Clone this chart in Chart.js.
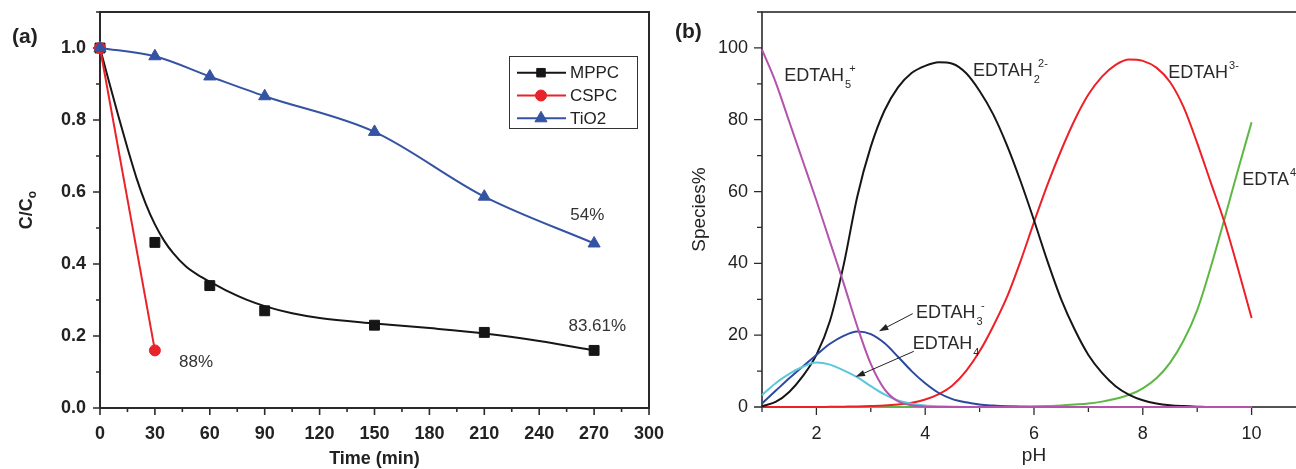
<!DOCTYPE html>
<html>
<head>
<meta charset="utf-8">
<script src="https://cdn.jsdelivr.net/npm/chart.js@4.4.0/dist/chart.umd.min.js"></script>
<style>
  html, body { margin: 0; padding: 0; background: #fff; overflow: hidden; }
  #wrap { position: relative; width: 1296px; height: 469px; overflow: hidden; background: #fff; }
  canvas { position: absolute; top: 0; }
  #chartA { left: 0; }
  #chartB { left: 660px; }
</style>
</head>
<body>
<div id="wrap">
  <canvas id="chartA" width="665" height="469"></canvas>
  <canvas id="chartB" width="660" height="469"></canvas>
</div>
<script>
const FONT = '"Liberation Sans", Arial, Helvetica, sans-serif';
Chart.defaults.font.family = FONT;
Chart.defaults.color = '#222';

// ---- panel (a): C/Co against time ----
const timeMin = [0, 30, 60, 90, 150, 210, 270];
const mppc = [1.0, 0.46, 0.34, 0.27, 0.23, 0.21, 0.16];
const tio2 = [1.0, 0.977, 0.921, 0.866, 0.767, 0.587, 0.457];
const cspcTime = [0, 30];
const cspc = [1.0, 0.16];
// MPPC fitted curve
const mppcFitTime = [0, 5, 10, 15, 20, 25, 30, 35, 40, 47, 55, 60, 70, 80, 90, 105, 120, 150, 180, 210, 240, 270];
const mppcFit = [1.0, 0.905, 0.812, 0.722, 0.638, 0.567, 0.51, 0.465, 0.43, 0.393, 0.365, 0.351, 0.324, 0.301, 0.283, 0.263, 0.25, 0.235, 0.222, 0.207, 0.186, 0.16];
const timeTicks = [0, 30, 60, 90, 120, 150, 180, 210, 240, 270, 300];
const ratioTicks = ['0.0', '0.2', '0.4', '0.6', '0.8', '1.0'];

// ---- panel (b): EDTA species against pH ----
const pH = [1, 1.25, 1.5, 1.75, 2, 2.25, 2.5, 2.75, 3, 3.25, 3.5, 3.75, 4, 4.25, 4.5, 4.75, 5, 5.25, 5.5,
  5.75, 6, 6.25, 6.5, 6.75, 7, 7.25, 7.5, 7.75, 8, 8.25, 8.5, 8.75, 9, 9.25, 9.5, 9.75, 10];
const edtah5 = [99.5, 90.5, 79.5, 68.5, 57.5, 46, 34.5, 22.5, 12, 5, 1.6, 0.5, 0.1, 0, 0, 0, 0, 0, 0,
  0, 0, 0, 0, 0, 0, 0, 0, 0, 0, 0, 0, 0, 0, 0, 0, 0, 0];
const edtah4 = [3.3, 6.6, 9.2, 11.2, 12.4, 11.8, 10.2, 8.3, 5.8, 3.5, 1.8, 0.9, 0.4, 0.2, 0.1, 0, 0, 0, 0,
  0, 0, 0, 0, 0, 0, 0, 0, 0, 0, 0, 0, 0, 0, 0, 0, 0, 0];
const edtah3 = [1.0, 4.5, 8.0, 11.3, 14.5, 17.6, 19.8, 21.0, 20.3, 17.8, 14.0, 10.0, 6.6, 3.9, 2.2, 1.3, 0.7, 0.4, 0.2,
  0.1, 0, 0, 0, 0, 0, 0, 0, 0, 0, 0, 0, 0, 0, 0, 0, 0, 0];
const edtah2 = [0.2, 1.4, 4.2, 8.6, 14.5, 24, 39.5, 58.5, 72.5, 82.5, 89, 93, 95, 96, 95.6, 93, 88, 81.5, 73,
  63, 52, 40.5, 30, 21.5, 14.5, 9.5, 5.8, 3.4, 1.9, 1.0, 0.5, 0.25, 0.1, 0, 0, 0, 0];
const edtah = [0, 0, 0, 0, 0, 0.05, 0.1, 0.15, 0.25, 0.4, 0.7, 1.2, 2.1, 3.6, 6.0, 10.0, 15.5, 22.5, 30.5,
  40.5, 51.5, 62, 71.5, 80, 87, 92, 95.3, 96.8, 96.4, 94.5, 90.5, 83.5, 73.5, 62.5, 51.5, 38.5, 24.8];
const edta4 = [0, 0, 0, 0, 0, 0, 0, 0, 0, 0, 0, 0, 0, 0, 0, 0, 0.05, 0.08, 0.1,
  0.15, 0.2, 0.3, 0.45, 0.7, 1.0, 1.5, 2.3, 3.4, 5.2, 8.0, 12.3, 18.5, 27, 39, 52.3, 66, 79.3];
const phTicks = [2, 4, 6, 8, 10];
const speciesTicks = [0, 20, 40, 60, 80, 100];

const toPoints = (xs, ys) => xs.map((x, i) => ({ x, y: ys[i] }));

// fixed axis boxes; drop the extra room Chart.js keeps for end labels
function fixX(h) {
  return s => { s.height = h; s.paddingLeft = 0; s.paddingRight = 0; };
}
function fixY(w) {
  return s => { s.width = w; s.paddingTop = 0; s.paddingBottom = 0; };
}

// frame around the plot area plus outward major/minor tick marks
const decor = {
  id: 'decor',
  beforeDatasetsDraw(chart, args, opts) {
    const { left, top, right, bottom } = chart.chartArea;
    const ctx = chart.ctx;
    ctx.save();
    ctx.strokeStyle = opts.color;
    ctx.lineWidth = opts.width;
    ctx.strokeRect(left, top, right - left, bottom - top);
    ctx.lineWidth = opts.width * 0.8;
    ctx.beginPath();
    chart.scales.x.ticks.forEach(t => {
      const px = chart.scales.x.getPixelForValue(t.value);
      const len = t.label !== '' ? opts.major : opts.minor;
      ctx.moveTo(px, bottom);
      ctx.lineTo(px, bottom + len);
    });
    chart.scales.y.ticks.forEach(t => {
      const py = chart.scales.y.getPixelForValue(t.value);
      const len = t.label !== '' ? opts.major : opts.minor;
      ctx.moveTo(left, py);
      ctx.lineTo(left - len, py);
    });
    ctx.stroke();
    ctx.restore();
  }
};

function drawSpecies(ctx, x, y, item) {
  ctx.font = '18px ' + FONT;
  ctx.fillText(item.text, x, y);
  let end = x + ctx.measureText(item.text).width + 1;
  ctx.font = '11px ' + FONT;
  let subW = 0;
  if (item.sub) {
    ctx.fillText(item.sub, end, y + 7);
    subW = ctx.measureText(item.sub).width;
  }
  if (item.sup) {
    ctx.fillText(item.sup, end + (item.sub ? subW * 0.7 : 0), y - 9);
  }
}

function arrow(ctx, x1, y1, x2, y2) {
  const a = Math.atan2(y2 - y1, x2 - x1);
  ctx.beginPath();
  ctx.moveTo(x1, y1);
  ctx.lineTo(x2 - 6 * Math.cos(a), y2 - 6 * Math.sin(a));
  ctx.stroke();
  ctx.beginPath();
  ctx.moveTo(x2, y2);
  ctx.lineTo(x2 - 10 * Math.cos(a - 0.32), y2 - 10 * Math.sin(a - 0.32));
  ctx.lineTo(x2 - 10 * Math.cos(a + 0.32), y2 - 10 * Math.sin(a + 0.32));
  ctx.closePath();
  ctx.fill();
}

const BLACK = '#161616';
const RED = '#e8232a';
const BLUE = '#3553a3';

const textA = {
  id: 'textA',
  afterDraw(chart) {
    const ctx = chart.ctx;
    const { left, right, top, bottom } = chart.chartArea;
    const xs = chart.scales.x, ys = chart.scales.y;
    ctx.save();
    ctx.fillStyle = '#333';
    ctx.textBaseline = 'alphabetic';
    ctx.textAlign = 'left';
    ctx.font = '17px ' + FONT;
    [['88%', 43.2, 0.113], ['83.61%', 256, 0.215], ['54%', 257, 0.521]].forEach(([s, t, v]) => {
      ctx.fillText(s, xs.getPixelForValue(t), ys.getPixelForValue(v));
    });

    // legend
    const lx = left + 409, ly = top + 44;
    ctx.strokeStyle = '#333';
    ctx.lineWidth = 1;
    ctx.strokeRect(lx + 0.5, ly + 0.5, 128, 72);
    const rows = [
      { label: 'MPPC', color: BLACK, style: 'rect', r: 6 },
      { label: 'CSPC', color: RED, style: 'circle', r: 5.5 },
      { label: 'TiO2', color: BLUE, style: 'triangle', r: 7 }
    ];
    rows.forEach((row, i) => {
      const y = ly + 16.7 + i * 22.8;
      ctx.strokeStyle = row.color;
      ctx.fillStyle = row.color;
      ctx.lineWidth = 2;
      ctx.beginPath();
      ctx.moveTo(lx + 8, y);
      ctx.lineTo(lx + 57, y);
      ctx.stroke();
      ctx.lineWidth = 1;
      Chart.helpers.drawPoint(ctx, { pointStyle: row.style, radius: row.r, rotation: 0, borderWidth: 1 }, lx + 32, y);
      ctx.fillStyle = '#222';
      ctx.font = '17px ' + FONT;
      ctx.textBaseline = 'middle';
      ctx.fillText(row.label, lx + 61, y + 1);
    });

    // axis titles
    ctx.fillStyle = '#222';
    ctx.textBaseline = 'alphabetic';
    ctx.textAlign = 'center';
    ctx.font = 'bold 18px ' + FONT;
    ctx.fillText('Time (min)', (left + right) / 2, bottom + 56);

    ctx.save();
    ctx.translate(32, (top + bottom) / 2);
    ctx.rotate(-Math.PI / 2);
    ctx.textAlign = 'left';
    ctx.font = 'bold 18px ' + FONT;
    const w1 = ctx.measureText('C/C').width;
    ctx.font = 'bold 12px ' + FONT;
    const w2 = ctx.measureText('o').width;
    ctx.font = 'bold 18px ' + FONT;
    ctx.fillText('C/C', -(w1 + w2) / 2, 0);
    ctx.font = 'bold 12px ' + FONT;
    ctx.fillText('o', -(w1 + w2) / 2 + w1, 4);
    ctx.restore();

    ctx.textAlign = 'left';
    ctx.font = 'bold 21px ' + FONT;
    ctx.fillText('(a)', 12, 43);
    ctx.restore();
  }
};

const textB = {
  id: 'textB',
  afterDraw(chart) {
    const ctx = chart.ctx;
    const { left, right, top, bottom } = chart.chartArea;
    const xs = chart.scales.x, ys = chart.scales.y;
    ctx.save();
    ctx.fillStyle = '#2a2a2a';
    ctx.textAlign = 'left';
    ctx.textBaseline = 'alphabetic';
    const names = [
      { text: 'EDTAH', sub: '5', sup: '+', ph: 1.41, pct: 90.9 },
      { text: 'EDTAH', sub: '2', sup: '2-', ph: 4.88, pct: 92.3 },
      { text: 'EDTAH', sup: '3-', ph: 8.47, pct: 91.6 },
      { text: 'EDTA', sup: '4-', ph: 9.83, pct: 61.9 },
      { text: 'EDTAH', sub: '3', sup: '-', ph: 3.83, pct: 24.8 },
      { text: 'EDTAH', sub: '4', ph: 3.77, pct: 16.2 }
    ];
    names.forEach(n => drawSpecies(ctx, xs.getPixelForValue(n.ph), ys.getPixelForValue(n.pct), n));

    ctx.strokeStyle = '#222';
    ctx.fillStyle = '#222';
    ctx.lineWidth = 1;
    [[3.77, 26.0, 3.15, 21.1], [3.79, 15.5, 2.72, 8.4]].forEach(([p1, v1, p2, v2]) => {
      arrow(ctx, xs.getPixelForValue(p1), ys.getPixelForValue(v1), xs.getPixelForValue(p2), ys.getPixelForValue(v2));
    });

    ctx.fillStyle = '#222';
    ctx.textAlign = 'center';
    ctx.font = '19px ' + FONT;
    ctx.fillText('pH', (left + right) / 2, bottom + 54);

    ctx.save();
    ctx.translate(45, (top + bottom) / 2);
    ctx.rotate(-Math.PI / 2);
    ctx.fillText('Species%', 0, 0);
    ctx.restore();

    ctx.textAlign = 'left';
    ctx.font = 'bold 21px ' + FONT;
    ctx.fillText('(b)', 15, 38);
    ctx.restore();
  }
};

new Chart(document.getElementById('chartA'), {
  type: 'line',
  data: {
    datasets: [
      {
        label: 'TiO2', data: toPoints(timeMin, tio2),
        borderColor: BLUE, backgroundColor: BLUE, borderWidth: 2,
        pointStyle: 'triangle', pointRadius: 7, pointBorderWidth: 1,
        cubicInterpolationMode: 'monotone', clip: false
      },
      {
        label: 'CSPC', data: toPoints(cspcTime, cspc),
        borderColor: RED, backgroundColor: RED, borderWidth: 2,
        pointStyle: 'circle', pointRadius: 5.5, pointBorderWidth: 1, clip: false
      },
      {
        label: 'MPPC', data: toPoints(timeMin, mppc), showLine: false,
        borderColor: BLACK, backgroundColor: BLACK,
        pointStyle: 'rect', pointRadius: 7, pointBorderWidth: 1, clip: false
      },
      {
        label: 'MPPC fit', data: toPoints(mppcFitTime, mppcFit),
        borderColor: BLACK, borderWidth: 2, pointRadius: 0,
        cubicInterpolationMode: 'monotone', clip: false
      }
    ]
  },
  options: {
    responsive: false,
    animation: false,
    devicePixelRatio: 1,
    layout: { padding: { left: 0, right: 16, top: 12, bottom: 0 } },
    plugins: {
      legend: { display: false },
      tooltip: { enabled: false },
      decor: { color: '#2a2a2a', width: 2, major: 7, minor: 4 }
    },
    scales: {
      x: {
        type: 'linear', min: 0, max: 300,
        afterFit: fixX(61),
        grid: { display: false, drawTicks: false },
        border: { display: false },
        ticks: {
          stepSize: 15, autoSkip: false, maxRotation: 0, padding: 15,
          color: '#222', font: { size: 18, weight: 'bold' },
          callback: v => timeTicks.includes(v) ? String(v) : ''
        }
      },
      y: {
        type: 'linear', min: 0, max: 1.1,
        afterFit: fixY(100),
        grid: { display: false, drawTicks: false },
        border: { display: false },
        ticks: {
          stepSize: 0.1, autoSkip: false, padding: 14,
          color: '#222', font: { size: 18, weight: 'bold' },
          callback: v => { const s = v.toFixed(1); return ratioTicks.includes(s) ? s : ''; }
        }
      }
    }
  },
  plugins: [decor, textA]
});

const speciesSets = [
  ['EDTAH5+', edtah5, '#b452ad'],
  ['EDTAH4', edtah4, '#5cc6db'],
  ['EDTAH3-', edtah3, '#2b4a9f'],
  ['EDTAH2 2-', edtah2, BLACK],
  ['EDTAH 3-', edtah, '#ee2027'],
  ['EDTA 4-', edta4, '#5db843']
];

new Chart(document.getElementById('chartB'), {
  type: 'line',
  data: {
    datasets: speciesSets.map(([label, values, color]) => ({
      label, data: toPoints(pH, values),
      borderColor: color, borderWidth: 2, pointRadius: 0,
      cubicInterpolationMode: 'monotone', clip: false
    }))
  },
  options: {
    responsive: false,
    animation: false,
    devicePixelRatio: 1,
    layout: { padding: { left: 0, right: 14, top: 12, bottom: 0 } },
    plugins: {
      legend: { display: false },
      tooltip: { enabled: false },
      decor: { color: '#2a2a2a', width: 1.6, major: 8, minor: 5 }
    },
    scales: {
      x: {
        type: 'linear', min: 1, max: 11,
        afterFit: fixX(62),
        grid: { display: false, drawTicks: false },
        border: { display: false },
        ticks: {
          stepSize: 1, autoSkip: false, maxRotation: 0, padding: 16,
          color: '#222', font: { size: 18 },
          callback: v => phTicks.includes(v) ? String(v) : ''
        }
      },
      y: {
        type: 'linear', min: 0, max: 110,
        afterFit: fixY(102),
        grid: { display: false, drawTicks: false },
        border: { display: false },
        ticks: {
          stepSize: 10, autoSkip: false, padding: 14,
          color: '#222', font: { size: 18 },
          callback: v => speciesTicks.includes(v) ? String(v) : ''
        }
      }
    }
  },
  plugins: [decor, textB]
});
</script>
</body>
</html>
